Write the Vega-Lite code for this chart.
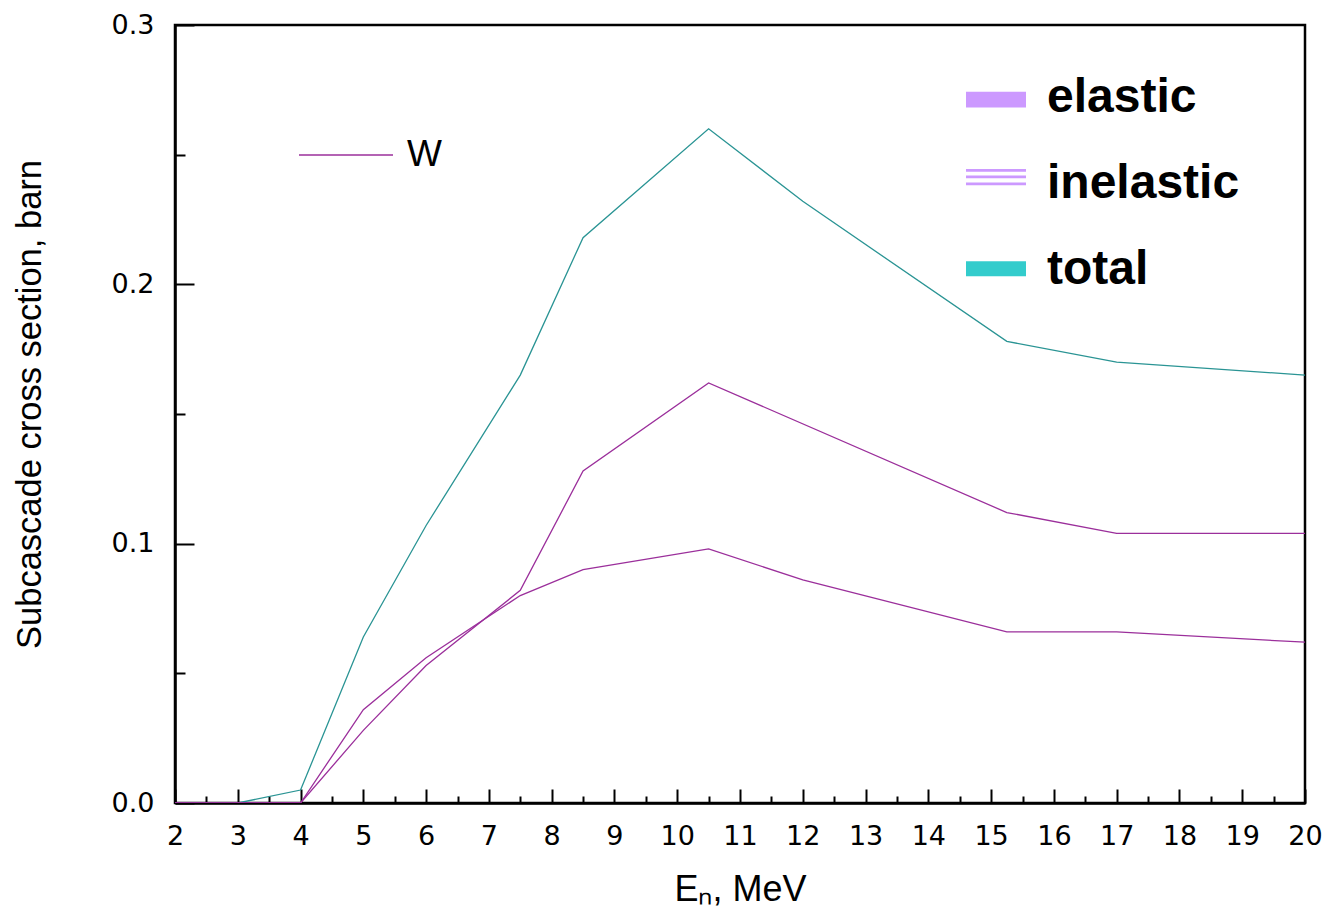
{
  "$schema": "https://vega.github.io/schema/vega-lite/v6.json",
  "width": 1130,
  "height": 778,
  "autosize": "none",
  "padding": {"left": 175, "top": 25, "right": 21, "bottom": 111},
  "background": "white",
  "config": {
    "view": {"stroke": "black", "strokeWidth": 2.5},
    "axis": {
      "domainColor": "black",
      "domainWidth": 2.5,
      "tickColor": "black",
      "tickWidth": 2,
      "grid": false,
      "labelFont": "DejaVu Sans",
      "labelFontSize": 27,
      "labelColor": "black",
      "labelOverlap": false,
      "labelFlush": false,
      "titleFont": "Liberation Sans",
      "titleFontWeight": "normal",
      "titleColor": "black"
    }
  },
  "data": {
    "values": [
      {"E": 2, "sigma": 0, "series": "total"},
      {"E": 3, "sigma": 0, "series": "total"},
      {"E": 4, "sigma": 0.005, "series": "total"},
      {"E": 5, "sigma": 0.064, "series": "total"},
      {"E": 6, "sigma": 0.107, "series": "total"},
      {"E": 7.5, "sigma": 0.165, "series": "total"},
      {"E": 8.5, "sigma": 0.218, "series": "total"},
      {"E": 10.5, "sigma": 0.26, "series": "total"},
      {"E": 12, "sigma": 0.232, "series": "total"},
      {"E": 15.25, "sigma": 0.178, "series": "total"},
      {"E": 17, "sigma": 0.17, "series": "total"},
      {"E": 20, "sigma": 0.165, "series": "total"},

      {"E": 2, "sigma": 0, "series": "inelastic"},
      {"E": 3, "sigma": 0, "series": "inelastic"},
      {"E": 4, "sigma": 0, "series": "inelastic"},
      {"E": 5, "sigma": 0.028, "series": "inelastic"},
      {"E": 6, "sigma": 0.053, "series": "inelastic"},
      {"E": 7.5, "sigma": 0.082, "series": "inelastic"},
      {"E": 8.5, "sigma": 0.128, "series": "inelastic"},
      {"E": 10.5, "sigma": 0.162, "series": "inelastic"},
      {"E": 15.25, "sigma": 0.112, "series": "inelastic"},
      {"E": 17, "sigma": 0.104, "series": "inelastic"},
      {"E": 20, "sigma": 0.104, "series": "inelastic"},

      {"E": 2, "sigma": 0, "series": "elastic"},
      {"E": 3, "sigma": 0, "series": "elastic"},
      {"E": 4, "sigma": 0, "series": "elastic"},
      {"E": 5, "sigma": 0.036, "series": "elastic"},
      {"E": 6, "sigma": 0.056, "series": "elastic"},
      {"E": 7.5, "sigma": 0.08, "series": "elastic"},
      {"E": 8.5, "sigma": 0.09, "series": "elastic"},
      {"E": 10.5, "sigma": 0.098, "series": "elastic"},
      {"E": 12, "sigma": 0.086, "series": "elastic"},
      {"E": 15.25, "sigma": 0.066, "series": "elastic"},
      {"E": 17, "sigma": 0.066, "series": "elastic"},
      {"E": 20, "sigma": 0.062, "series": "elastic"}
    ]
  },
  "encoding": {
    "x": {
      "field": "E",
      "type": "quantitative",
      "scale": {"domain": [2, 20], "nice": false, "zero": false},
      "axis": {
        "title": "Eₙ, MeV",
        "titleFontSize": 36,
        "titleX": 565,
        "titleY": 97,
        "titleBaseline": "alphabetic",
        "values": [2, 2.5, 3, 3.5, 4, 4.5, 5, 5.5, 6, 6.5, 7, 7.5, 8, 8.5, 9, 9.5, 10, 10.5, 11, 11.5, 12, 12.5, 13, 13.5, 14, 14.5, 15, 15.5, 16, 16.5, 17, 17.5, 18, 18.5, 19, 19.5, 20],
        "labelExpr": "datum.value % 1 === 0 ? format(datum.value, 'd') : ''",
        "tickSize": {"condition": {"test": "datum.value % 1 !== 0", "value": -7}, "value": -14},
        "labelPadding": 34
      }
    },
    "y": {
      "field": "sigma",
      "type": "quantitative",
      "scale": {"domain": [0, 0.3], "nice": false},
      "axis": {
        "title": "Subcascade cross section, barn",
        "titleFontSize": 34.5,
        "titleX": -128,
        "titleY": 379,
        "values": [0, 0.05, 0.1, 0.15, 0.2, 0.25, 0.3],
        "labelExpr": "round(datum.value * 100) % 10 === 0 ? format(datum.value, '.1f') : ''",
        "tickSize": {"condition": {"test": "round(datum.value * 100) % 10 !== 0", "value": -10}, "value": -19},
        "labelPadding": 40
      }
    }
  },
  "layer": [
    {
      "mark": {"type": "line", "strokeWidth": 1.3, "clip": true},
      "encoding": {
        "detail": {"field": "series"},
        "color": {
          "field": "series",
          "type": "nominal",
          "scale": {"range": ["#9b2f9b", "#9b2f9b", "#2a9494"]},
          "legend": null
        }
      }
    },
    {
      "transform": [{"filter": "datum.E < 0"}],
      "mark": {"type": "line"},
      "encoding": {
        "stroke": {
          "datum": "W",
          "type": "nominal",
          "scale": {"domain": ["W"], "range": ["#9b2f9b"]},
          "legend": {
            "title": null,
            "orient": "none",
            "legendX": 123,
            "legendY": 82,
            "padding": 0,
            "symbolType": "stroke",
            "symbolSize": 8836,
            "symbolStrokeWidth": 1.3,
            "labelFont": "Liberation Sans",
            "labelFontSize": 37,
            "labelColor": "black",
            "labelOffset": 13
          }
        }
      }
    },
    {
      "transform": [{"filter": "datum.E < 0"}],
      "mark": {"type": "point", "filled": true},
      "encoding": {
        "fill": {
          "field": "series",
          "type": "nominal",
          "scale": {"domain": ["elastic", "inelastic", "total"], "range": ["#cc99ff", "#cc99ff", "#33cccc"]},
          "legend": {
            "title": null,
            "orient": "none",
            "legendX": 791,
            "legendY": 43,
            "padding": 0,
            "rowPadding": 32,
            "symbolSize": 3600,
            "symbolStrokeWidth": 0,
            "symbolOpacity": 1,
            "labelFont": "Liberation Sans",
            "labelFontWeight": "bold",
            "labelFontSize": 48,
            "labelLimit": 0,
            "labelColor": "black",
            "labelOffset": 21
          }
        },
        "shape": {
          "field": "series",
          "type": "nominal",
          "scale": {
            "domain": ["elastic", "inelastic", "total"],
            "range": [
              "M-1,-0.21H1V0.32H-1Z",
              "M-1,-0.5H1V-0.41H-1Z M-1,-0.28H1V-0.19H-1Z M-1,-0.05H1V0.04H-1Z",
              "M-1,-0.29H1V0.21H-1Z"
            ]
          },
          "legend": {
            "title": null,
            "orient": "none",
            "legendX": 791,
            "legendY": 43,
            "padding": 0,
            "rowPadding": 32,
            "symbolSize": 3600,
            "symbolStrokeWidth": 0,
            "symbolOpacity": 1,
            "labelFont": "Liberation Sans",
            "labelFontWeight": "bold",
            "labelFontSize": 48,
            "labelLimit": 0,
            "labelColor": "black",
            "labelOffset": 21
          }
        }
      }
    }
  ]
}
